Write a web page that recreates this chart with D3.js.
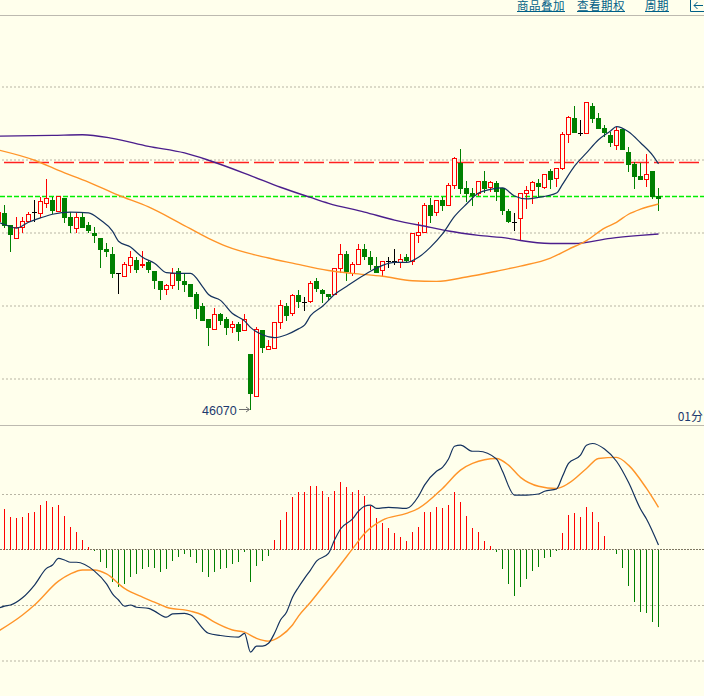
<!DOCTYPE html>
<html>
<head>
<meta charset="utf-8">
<style>
    html, body { margin: 0; padding: 0; background: #ffffec; overflow: hidden; }
    svg { display: block; }
    text { font-family: "Noto Sans CJK SC", "Liberation Sans", sans-serif; }
</style>
</head>
<body>
<div id="vis"></div>
<script src="https://d3js.org/d3.v7.min.js"></script>
<script>
    // candles, first one is cut off by the left edge
    const firstCandle = -1;
    const opens = [48640,48770,48600,48420,48570,48650,48770,48770,48900,48940,48790,48970,48710,48560,48710,48600,48500,48430,48270,48200,47940,47890,48050,48130,48040,48100,47970,47840,47720,47770,47970,47840,47800,47660,47500,47310,47180,47380,47310,47200,47240,47160,46840,46250,47170,46900,46920,47270,47500,47390,47640,47540,47550,47830,47710,47660,47660,48010,48200,47940,48060,48270,48170,48040,47970,48100,48100,48090,48170,48100,48460,48500,48870,48770,48940,48870,49140,49450,49110,49040,49030,49200,49110,49180,49110,48800,48640,48700,49030,49070,49180,49120,49340,49230,49370,49840,50070,49860,49860,50230,50070,49930,49840,49700,49920,49600,49440,49270,49230,49340,49000];
    const highs = [48800,48870,48600,48710,48710,48780,48940,48980,49230,48980,49000,48970,48780,48770,48770,48640,48570,48430,48360,48300,47950,48100,48240,48170,48240,48130,47970,47840,47790,48010,48010,47950,47800,47690,47540,47310,47470,47400,47340,47290,47280,47380,46840,47200,47170,47030,47270,47570,47540,47660,47710,47610,47840,47870,47730,47660,48010,48340,48240,48090,48340,48340,48240,48170,48100,48170,48270,48200,48200,48480,48640,48900,48970,48940,48980,49180,49530,49640,49200,49110,49200,49340,49200,49200,49110,48820,48770,49040,49140,49200,49230,49300,49370,49370,49880,50100,50230,50040,50280,50280,50140,49970,49880,49940,49920,49670,49470,49450,49570,49340,49110];
    const lows = [48610,48560,48230,48420,48490,48650,48650,48700,48830,48750,48790,48630,48490,48490,48560,48490,48350,48020,48160,47870,47660,47890,47950,47950,48010,47950,47720,47580,47650,47720,47710,47690,47620,47320,47290,46950,47160,47230,47100,47130,47020,47160,46070,46250,46850,46900,46900,47180,47290,47360,47460,47420,47530,47680,47530,47570,47640,47940,47830,47900,48060,48130,47990,47950,47900,48020,48060,48020,48100,48060,48350,48500,48630,48720,48790,48870,49090,49030,48920,48860,49000,49040,49050,48930,48740,48630,48520,48390,48820,48890,48980,49090,49090,49120,49350,49730,49860,49820,49860,50000,49920,49810,49670,49630,49630,49330,49090,49220,49120,48960,48790];
    const closes = [48770,48590,48460,48570,48650,48740,48770,48930,48970,48790,49000,48700,48590,48710,48560,48520,48460,48260,48230,47930,47940,48060,48160,47990,48060,47990,47830,47720,47770,47940,47830,47790,47620,47460,47290,47180,47380,47290,47180,47240,47130,47310,46290,47170,46920,46940,47270,47500,47360,47640,47550,47540,47800,47720,47650,47620,48010,48200,47950,48060,48270,48160,48060,47950,48100,48100,48100,48130,48120,48480,48500,48870,48720,48940,48860,49140,49510,49090,49030,49000,49200,49090,49180,49050,48790,48650,48640,49040,49070,49180,49120,49300,49220,49370,49840,50070,49860,49860,50280,50050,49920,49860,49730,49900,49630,49420,49260,49220,49300,48980,48960];

    // moving averages, read at the candles where they bend
    const maFastAt = [-1,0,2,4,6,8,11,14,16,18,19,21,23,25,27,29,31,33,34,36,38,40,41,43,45,47,49,50,51,53,55,57,59,61,63,65,67,69,71,73,75,77,79,81,83,85,87,89,92,93,95,97,99,101,102,104,106,108,109];
    const maFast = [48640,48610,48560,48640,48700,48750,48780,48770,48670,48520,48380,48300,48160,48080,47950,47940,47940,47760,47650,47570,47390,47290,47200,47100,47060,47100,47180,47230,47360,47490,47650,47760,47870,47970,48050,48090,48090,48160,48300,48480,48720,48890,49040,49090,49110,49000,48960,48980,49040,49160,49410,49590,49770,49890,49950,49880,49730,49560,49440];
    const maMidAt = [-1,5,9,14,19,24,29,34,37,44,48,54,58,63,68,72,77,82,86,91,94,97,100,102,104,106,109];
    const maMid = [49630,49490,49350,49190,49010,48850,48640,48420,48310,48150,48080,47980,47940,47900,47840,47830,47890,47970,48040,48150,48270,48390,48560,48640,48750,48820,48890];
    const maSlowAt = [-1,8,13,18,24,30,34,41,46,51,54,60,65,71,74,79,84,86,91,95,101,106,109];
    const maSlow = [49820,49830,49840,49790,49680,49590,49490,49280,49120,48980,48900,48780,48670,48570,48520,48460,48420,48390,48350,48350,48420,48460,48480];

    const priceTicks = [46500,47500,48500,49500,50500];
    const refHigh = 49460;
    const refLow = 48990;
    const lowLabel = "46070";

    // lower panel
    const histFirst = 0;
    const hist = [73,58,56,59,65,68,81,88,77,81,61,40,32,18,5,-3,-23,-34,-59,-68,-63,-49,-45,-36,-31,-34,-40,-36,-20,-13,-9,-14,-25,-40,-50,-41,-36,-34,-27,-23,-5,-58,-29,-20,-11,18,54,68,94,103,103,115,115,106,95,106,122,112,104,108,97,79,56,47,38,29,22,16,31,40,67,68,77,74,81,104,85,61,38,31,16,7,-5,-36,-63,-83,-67,-54,-38,-31,-16,-13,-2,29,63,65,59,77,68,49,25,-1,-9,-34,-65,-94,-112,-115,-131,-139];
    const difAt = [-1,0,1,3,5,7,8,9,10,11,12,15,17,18,19,20,21,22,24,25,27,28,30,31,34,36,39,40,41,42,43,44,45,46,47,48,49,50,51,52,54,55,56,58,59,60,61,62,64,67,69,70,72,73,74,75,76,78,79,82,83,85,87,89,90,92,93,94,96,97,98,100,102,104,106,107,109];
    const dif = [-106,-102,-100,-87,-64,-34,-28,-16,-19,-23,-23,-39,-62,-80,-91,-102,-100,-104,-106,-111,-122,-116,-115,-118,-151,-155,-158,-151,-185,-174,-174,-169,-151,-127,-113,-86,-68,-52,-37,-21,-7,17,37,55,69,78,80,74,76,74,96,116,141,148,163,186,188,177,177,163,141,98,98,100,105,109,132,155,170,188,191,181,159,121,73,55,8];
    const deaAt = [-1,3,5,9,11,13,15,17,20,23,25,27,31,33,35,38,40,42,44,46,48,49,51,53,55,58,60,63,67,69,73,76,78,82,84,86,89,92,94,97,99,102,104,107,109];
    const dea = [-147,-118,-100,-57,-44,-37,-37,-44,-70,-86,-95,-104,-111,-118,-131,-145,-149,-160,-165,-156,-136,-120,-95,-68,-41,1,29,53,65,74,110,143,155,164,152,130,114,110,119,146,164,166,152,110,76];
    const macdTicks = [100,-100,-200];

    // links in the top bar
    const topLinks = ["商品叠加","查看期权","周期"];
    const topLinkX = [517,577,645];

    const width = 704, height = 696;
    const green = "#008000", red = "#ff0000", navy = "#14325e", linkBlue = "#005f87", gridColor = "#b8b5a4";

    const svg = d3.select("#vis").append("svg")
        .attr("width", width)
        .attr("height", height);

    // one candle every 6 px, wick falls on a pixel centre
    const x = d3.scaleLinear().domain([0, 109]).range([4.5, 658.5]);
    const yPrice = d3.scaleLinear().domain([46500, 50500]).range([378.5, 86.5]);
    const yMacd = d3.scaleLinear().domain([0, 100]).range([549.5, 494]);

    const crisp = v => Math.round(v - 0.5) + 0.5;

    // panel frame lines
    svg.selectAll("line.frame")
        .data([15.5, 425.5])
        .enter()
        .append("line")
        .attr("class", "frame")
        .attr("x1", 0).attr("x2", width)
        .attr("y1", d => d).attr("y2", d => d)
        .attr("stroke", "#bdbab0");

    // gridlines are just axes with long ticks and no labels
    function grid(scale, ticks) {
        const g = svg.append("g")
            .attr("transform", "translate(" + width + ",0)")
            .call(d3.axisLeft(scale).tickValues(ticks).tickSize(width).tickFormat(""));
        g.select(".domain").remove();
        g.selectAll("line")
            .attr("stroke", gridColor)
            .attr("stroke-dasharray", "2,2");
    }
    grid(yPrice, priceTicks);
    grid(yMacd, macdTicks);

    // zero line of the lower panel
    svg.append("line")
        .attr("x1", 0).attr("x2", width)
        .attr("y1", yMacd(0)).attr("y2", yMacd(0))
        .attr("stroke", "#7d7762")
        .attr("stroke-dasharray", "2,1");

    // reference levels
    svg.append("line")
        .attr("x1", 0).attr("x2", 700)
        .attr("y1", crisp(yPrice(refHigh))).attr("y2", crisp(yPrice(refHigh)))
        .attr("stroke", "#ff2020")
        .attr("stroke-width", 1.5)
        .attr("stroke-dasharray", "20,5")
        .attr("stroke-dashoffset", 21);
    svg.append("line")
        .attr("x1", 0).attr("x2", width)
        .attr("y1", crisp(yPrice(refLow))).attr("y2", crisp(yPrice(refLow)))
        .attr("stroke", "#00ee00")
        .attr("stroke-width", 1.5)
        .attr("stroke-dasharray", "5,2");

    // candles
    const candles = opens.map((o, i) => ({
        i: i + firstCandle, o: o, h: highs[i], l: lows[i], c: closes[i]
    }));
    const colorOf = d => d.c > d.o ? red : (d.c < d.o ? green : "#000000");

    const candle = svg.append("g").selectAll("g")
        .data(candles)
        .enter()
        .append("g")
        .attr("shape-rendering", "crispEdges");

    candle.append("line")
        .attr("x1", d => x(d.i)).attr("x2", d => x(d.i))
        .attr("y1", d => Math.round(yPrice(d.h)))
        .attr("y2", d => Math.round(yPrice(d.l)))
        .attr("stroke", colorOf);

    // dojis get a short tick, up candles are hollow, down candles filled
    candle.filter(d => d.c === d.o).append("line")
        .attr("x1", d => x(d.i) - 2.5).attr("x2", d => x(d.i) + 2.5)
        .attr("y1", d => crisp(yPrice(d.c))).attr("y2", d => crisp(yPrice(d.c)))
        .attr("stroke", "#000000");
    candle.filter(d => d.c > d.o).append("rect")
        .attr("x", d => x(d.i) - 2)
        .attr("width", 4)
        .attr("y", d => crisp(yPrice(d.c)))
        .attr("height", d => Math.max(1, Math.round(yPrice(d.o) - yPrice(d.c))))
        .attr("fill", "#ffffec")
        .attr("stroke", red);
    candle.filter(d => d.c < d.o).append("rect")
        .attr("x", d => x(d.i) - 2.5)
        .attr("width", 5)
        .attr("y", d => Math.round(yPrice(d.o)))
        .attr("height", d => Math.max(1, Math.round(yPrice(d.c) - yPrice(d.o))))
        .attr("fill", green);

    // line helper, at = candle index of every value
    function drawLine(at, values, yScale, color, w) {
        const line = d3.line()
            .x(d => x(d[0]))
            .y(d => yScale(d[1]))
            .curve(d3.curveMonotoneX);
        svg.append("path")
            .attr("d", line(at.map((a, i) => [a, values[i]])))
            .attr("fill", "none")
            .attr("stroke", color)
            .attr("stroke-width", w);
    }
    drawLine(maSlowAt, maSlow, yPrice, "#4b1e8c", 1.4);
    drawLine(maMidAt, maMid, yPrice, "#ff9428", 1.4);
    drawLine(maFastAt, maFast, yPrice, navy, 1.2);

    // MACD bars
    svg.append("g").selectAll("line")
        .data(hist)
        .enter()
        .append("line")
        .attr("shape-rendering", "crispEdges")
        .attr("x1", (d, i) => x(i + histFirst)).attr("x2", (d, i) => x(i + histFirst))
        .attr("y1", yMacd(0))
        .attr("y2", d => yMacd(d))
        .attr("stroke", d => d >= 0 ? red : green);

    drawLine(deaAt, dea, yMacd, "#ff9428", 1.4);
    drawLine(difAt, dif, yMacd, navy, 1.2);

    // low marker
    const lowY = Math.round(yPrice(+lowLabel)) - 0.5;
    svg.append("text")
        .attr("x", 202).attr("y", lowY + 5)
        .attr("fill", "#1c3a6e")
        .style("font-family", "'Liberation Sans'")
        .style("font-size", "12.5px")
        .text(lowLabel);
    svg.append("path")
        .attr("d", "M239," + lowY + "H249M246," + (lowY - 2.5) + "L249.5," + lowY + "L246," + (lowY + 2.5))
        .attr("fill", "none")
        .attr("stroke", "#6e6e6e");

    svg.append("text")
        .attr("x", 703).attr("y", 421)
        .attr("text-anchor", "end")
        .attr("fill", "#1c3a6e")
        .style("font-size", "12px")
        .text("01分");

    // top links, underline drawn by hand so it sits where the original has it
    const linkFont = 11.5, linkSpacing = 0.5;
    svg.selectAll("text.link")
        .data(topLinks)
        .enter()
        .append("text")
        .attr("class", "link")
        .attr("x", (d, i) => topLinkX[i])
        .attr("y", 10.3)
        .attr("fill", linkBlue)
        .style("font-size", linkFont + "px")
        .style("letter-spacing", linkSpacing + "px")
        .text(d => d);
    svg.selectAll("line.linkUnder")
        .data(topLinks)
        .enter()
        .append("line")
        .attr("class", "linkUnder")
        .attr("x1", (d, i) => topLinkX[i])
        .attr("x2", (d, i) => topLinkX[i] + d.length * (linkFont + linkSpacing))
        .attr("y1", 11.5).attr("y2", 11.5)
        .attr("stroke", linkBlue);

    // back arrow icon at the right end of the bar
    svg.append("path")
        .attr("d", "M690.5,0V11.5H704M703,5.5H694M697.5,2L694,5.5L697.5,9")
        .attr("fill", "none")
        .attr("stroke", linkBlue);
</script>
</body>
</html>
